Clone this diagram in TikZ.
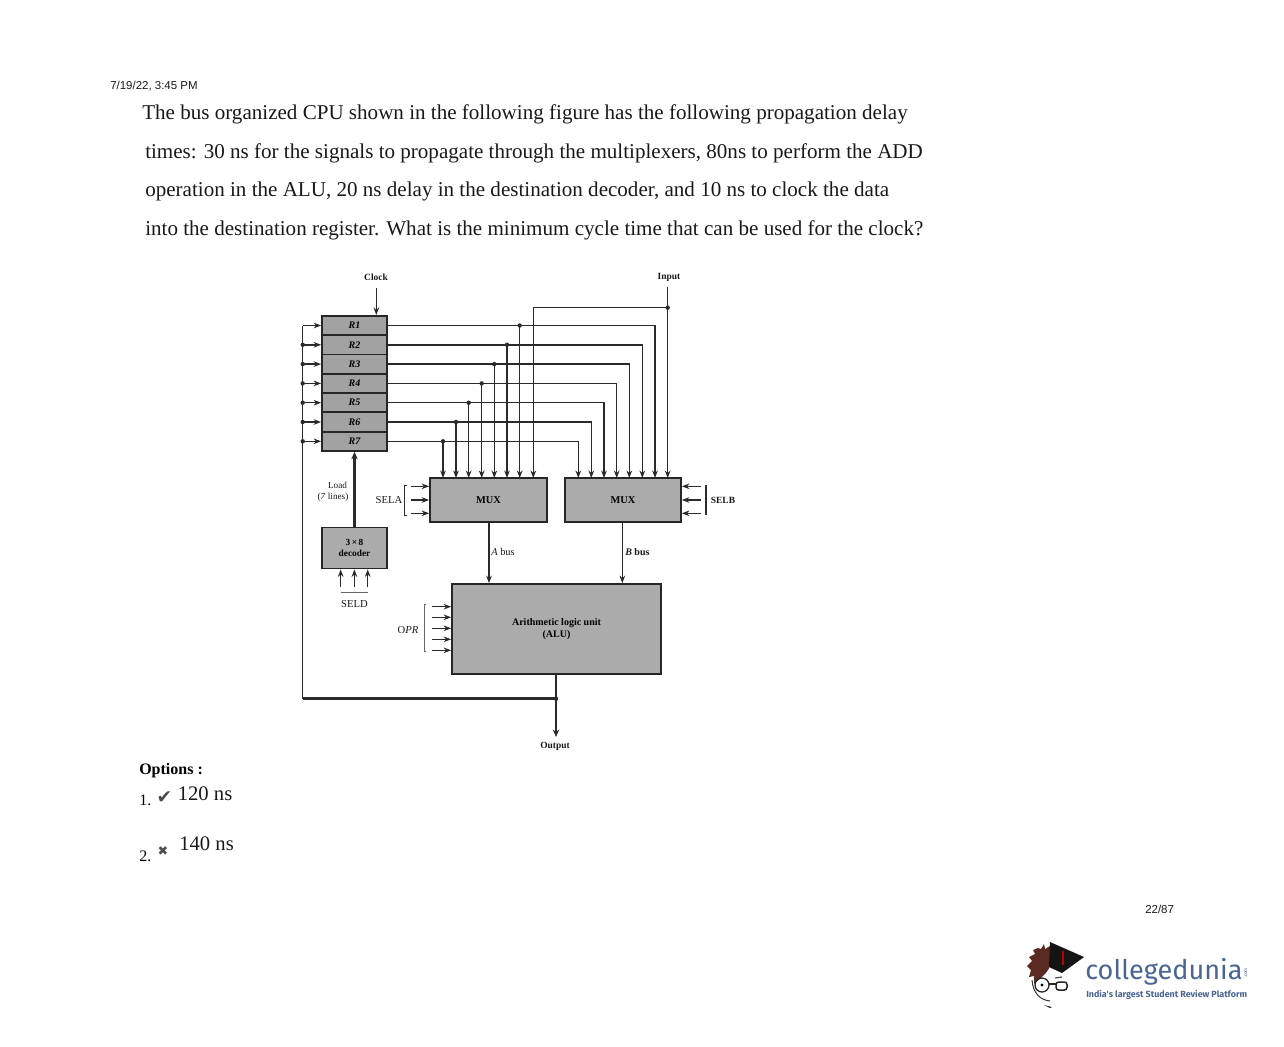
\documentclass[tikz,border=0pt]{standalone}
\usepackage{fontspec}
\setmainfont{Liberation Serif}
\setsansfont{Liberation Sans}
\newfontfamily\dejavu{DejaVu Sans}
\newfontfamily\logofont{Fira Sans}
\usetikzlibrary{arrows.meta,calc}
\newlength\px \setlength\px{0.75pt}
\definecolor{boxgray}{HTML}{ABABAB}
\definecolor{regray}{HTML}{A2A2A2}
\definecolor{wirecol}{HTML}{2A2A2A}
\definecolor{logoblue}{HTML}{4A6494}
\definecolor{hair}{HTML}{5A2A22}
\tikzset{
  wire/.style={draw=wirecol,line width=1.5\px},
  thickwire/.style={draw=wirecol,line width=2.6\px},
  arrowed/.style={-{Stealth[length=5.6pt,width=4.2pt]}},
  bigarrow/.style={-{Stealth[length=5.6pt,width=4.8pt]}},
  blockbox/.style={draw=black!85,line width=1.8\px,fill=boxgray,inner sep=0pt},
  regbox/.style={blockbox,fill=regray,minimum width=65\px,minimum height=19.3\px},
  para/.style={anchor=base west,inner sep=0pt,font=\fontsize{15.8pt}{18pt}\selectfont,text=black!90},
  optline/.style={anchor=base west,inner sep=0pt,font=\fontsize{15.5pt}{18pt}\selectfont,text=black!90},
  small/.style={inner sep=0pt,font=\fontsize{7.1pt}{8pt}\selectfont\bfseries,text=black!90},
  tiny/.style={inner sep=0pt,font=\fontsize{6.9pt}{7.4pt}\selectfont,text=black!90,align=center},
  head/.style={anchor=base west,inner sep=0pt,font=\sffamily\fontsize{8.6pt}{10pt}\selectfont,text=black!90},
  tap/.style={circle,fill=wirecol,inner sep=0pt,minimum size=4.4\px}
}
\begin{document}
\begin{tikzpicture}[x=0.75pt,y=-0.75pt]
\useasboundingbox (0,0) rectangle (1284,1046);

% page text
\node[head] (stamp) at (110,89) {7/19/22, 3:45 PM};
\node[para] (l1) at (142,119) {The bus organized CPU shown in the following figure has the following propagation delay};
\node[para] (l2) at (145,158) {times: 30 ns for the signals to propagate through the multiplexers, 80ns to perform the ADD};
\node[para] (l3) at (145,196) {operation in the ALU, 20 ns delay in the destination decoder, and 10 ns to clock the data};
\node[para] (l4) at (145,235) {into the destination register. What is the minimum cycle time that can be used for the clock?};

% registers
\foreach \n/\yy in {1/325.5,2/344.8,3/364.1,4/383.4,5/402.7,6/422,7/441.3}{
  \node[regbox] (R\n) at (354.5,\yy) {\fontsize{7.5pt}{8pt}\selectfont\itshape\bfseries R\n};
}
% blocks
\node[blockbox,minimum width=117\px,minimum height=43.5\px] (muxa) at (488.5,500) {\fontsize{7.8pt}{8pt}\selectfont\bfseries MUX};
\node[blockbox,minimum width=116\px,minimum height=43.5\px] (muxb) at (623,500) {\fontsize{7.8pt}{8pt}\selectfont\bfseries MUX};
\node[blockbox,minimum width=65\px,minimum height=41\px,align=center,font=\fontsize{7pt}{8.6pt}\selectfont\bfseries] (dec) at (354.5,548) {3\,×\,8\\decoder};
\node[blockbox,minimum width=209\px,minimum height=90\px,align=center,font=\fontsize{7.5pt}{8.6pt}\selectfont\bfseries] (alu) at (556.5,629) {Arithmetic logic unit\\(ALU)};

% labels
\node[small] (clock) at (376,277) {Clock};
\node[small] (input) at (669,277) {Input};
\node[small] (output) at (555,746) {Output};
\node[tiny] (load) at (337.5,485) {Load};
\node[tiny] (seven) at (333,497) {(\textit{7} lines)};
\node[tiny,font=\fontsize{8pt}{8pt}\selectfont] (sela) at (389,500) {SELA};
\node[small] (selb) at (723,500) {SELB};
\node[tiny,font=\fontsize{8pt}{8pt}\selectfont] (seld) at (354.5,604) {SELD};
\node[tiny,font=\fontsize{8pt}{8pt}\selectfont] (opr) at (408,630) {O\textit{PR}};
\node[tiny,anchor=west,font=\fontsize{7.8pt}{8pt}\selectfont] (abus) at (491,552) {\textit{A} bus};
\node[tiny,anchor=west,font=\fontsize{7.5pt}{8pt}\selectfont\bfseries] (bbus) at (625,552) {\textit{B} bus};

% named points
\coordinate (clockstart) at (376.3,288);
\coordinate (inputstart) at (667.7,287);
\coordinate (inputtap) at (667.7,307.7);
\coordinate (outend) at (556,737);
\coordinate (outjoin) at (556,698.7);
\foreach \n/\xx in {1/443,2/456,3/468.7,4/481.7,5/494.3,6/507,7/519.7,8/533.3}{
  \coordinate (ma\n) at (\xx,478);
}
\foreach \n/\xx in {1/578.3,2/591.3,3/604,4/616.7,5/629.3,6/642.3,7/655,8/667.7}{
  \coordinate (mb\n) at (\xx,478);
}
\coordinate (busleft) at (302.7,698.7);

% clock
\draw[wire,arrowed] (clockstart) -- (clockstart |- R1.north);

% register outputs and mux inputs
\foreach \r/\k in {1/7,2/6,3/5,4/4,5/3,6/2,7/1}{
  \draw[wire,arrowed] (R\r.east) -| (mb\k);
  \draw[wire,arrowed] (R\r.east -| ma\k) -- (ma\k);
  \node[tap] (t\r) at (R\r.east -| ma\k) {};
}
% input
\draw[wire,arrowed] (inputstart) -- (mb8);
\draw[wire,arrowed] (inputtap) -| (ma8);
\node[tap] (tin) at (inputtap) {};

% feedback bus
\draw[wire] (busleft) -- (busleft |- R1.west);
\draw[thickwire] (outjoin) -- (busleft);
\draw[thickwire,bigarrow] (alu.south -| outjoin) -- (outend);
\node[tap] (tout) at (outjoin) {};
\foreach \r in {1,...,7}{
  \draw[wire,arrowed] (busleft |- R\r.west) -- (R\r.west);
}
\foreach \r in {2,...,7}{
  \node[tap] (b\r) at (busleft |- R\r.west) {};
}

% load lines
\draw[thickwire,{Stealth[length=5.6pt,width=4.8pt]}-] (R7.south) -- (dec.north);

% decoder select
\foreach \i/\xx in {1/340.7,2/354.4,3/367.7}{
  \coordinate (ds\i) at (\xx,587);
  \draw[wire,arrowed] (ds\i) -- (ds\i |- dec.south);
}
\draw[black!60,line width=0.6\px] (ds1 |- 0,592) -- (ds3 |- 0,592);

% SELA
\foreach \i/\yy in {1/486.3,2/500,3/513.3}{
  \coordinate (sa\i) at (410.7,\yy);
  \draw[wire,arrowed] (sa\i) -- (sa\i -| muxa.west);
  \coordinate (sb\i) at (700.7,\yy);
  \draw[wire,arrowed] (sb\i) -- (sb\i -| muxb.east);
}
\draw[wire,line width=0.8\px] (407,485.5) -- (404.3,485.5) -- (404.3,515) -- (407,515);
\draw[thickwire,line width=2\px] (705.7,485) -- (705.7,515);

% buses to ALU
\coordinate (abuspt) at (489,521.7);
\coordinate (bbuspt) at (622.3,521.7);
\draw[wire,arrowed] (abuspt) -- (abuspt |- alu.north);
\draw[wire,arrowed] (bbuspt) -- (bbuspt |- alu.north);

% OPR
\foreach \i/\yy in {1/606.7,2/617.3,3/628.3,4/639.3,5/650.3}{
  \coordinate (op\i) at (431.7,\yy);
  \draw[wire,arrowed] (op\i) -- (op\i -| alu.west);
}
\draw[black!60,line width=0.7\px] (425.5,604.7) -- (424,604.7) -- (424,651) -- (425.5,651);

% options
\node[anchor=base west,inner sep=0pt,font=\fontsize{12pt}{14pt}\selectfont\bfseries] (opts) at (139,774) {Options :};
\node[anchor=base west,inner sep=0pt,font=\fontsize{12pt}{14pt}\selectfont] (n1) at (139,805) {1.};
\node[anchor=center,inner sep=0pt,font=\dejavu\fontsize{14pt}{15pt}\selectfont,text=black!70] (ck) at (164.5,798) {✔};
\node[optline] (o1) at (177.5,800.5) {120 ns};
\node[anchor=base west,inner sep=0pt,font=\fontsize{12pt}{14pt}\selectfont] (n2) at (139,861) {2.};
\node[anchor=center,inner sep=0pt,font=\dejavu\fontsize{9.5pt}{10pt}\selectfont,text=black!70] (xx) at (163,851.5) {✖};
\node[optline] (o2) at (179,850.5) {140 ns};

% footer
\node[head] (page) at (1145,913) {22/87};
\fill[hair] (1038,948) -- (1033,950) -- (1035,954) -- (1029,957) -- (1032,961) -- (1027,966) -- (1031,970) -- (1029,977) -- (1034,976) -- (1034,984)
  .. controls (1040,978) and (1047,974) .. (1050,966) -- (1050,946) -- (1045,949) -- (1044,944) -- (1041,949) -- cycle;
\fill[black!92] (1050,942) -- (1084,957) -- (1062,973) -- (1049,967) -- cycle;
\fill[red!75!black] (1061.5,951) rectangle (1064,965);
\draw[black!80,line width=1\px] (1032,980) .. controls (1033,993) and (1040,1000) .. (1050,1001);
\draw[black!85,line width=1.3\px] (1042,985) circle (7);
\fill[black] (1042,985) circle (1.6);
\draw[black!85,line width=1.5\px,rounded corners=2] (1056,982) rectangle (1067,990);
\draw[black!85,line width=1.2\px] (1049,984) -- (1056,984);
\draw[black!70,line width=1.2\px] (1055,978) -- (1062,977);
\fill[black!85] (1044,1005) -- (1052,1007) -- (1050,1008) -- cycle;
\node[anchor=base west,inner sep=0pt,text=logoblue,font=\logofont\fontsize{20.3pt}{24pt}\selectfont] (brand) at (1085,979) {collegedunia};
\node[inner sep=0pt,rotate=90,text=logoblue,font=\logofont\fontsize{3.5pt}{4pt}\selectfont] (dotcom) at (1246,973) {.com};
\node[anchor=base west,inner sep=0pt,text=logoblue,font=\logofont\fontsize{6.7pt}{7pt}\selectfont\bfseries] (tagline) at (1086,997) {India's largest Student Review Platform};
\end{tikzpicture}
\end{document}
